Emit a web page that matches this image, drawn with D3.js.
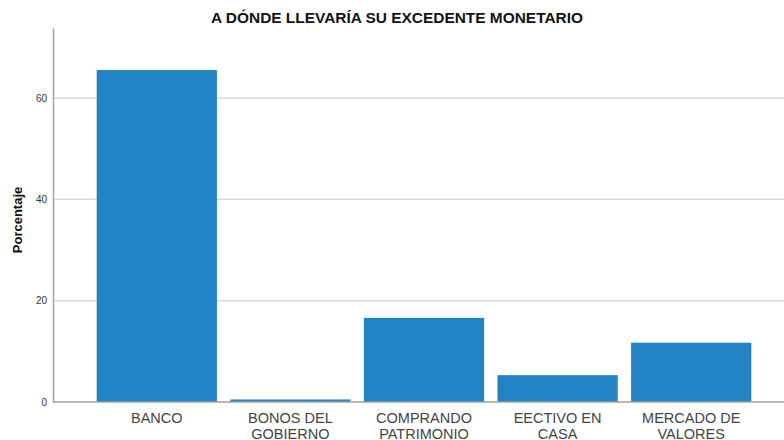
<!DOCTYPE html>
<html><head><meta charset="utf-8">
<script src="https://cdn.jsdelivr.net/npm/d3@7"></script>
<style>body{margin:0;background:#fff}svg{display:block}</style>
</head><body>
<script>
const categories = [["BANCO"],["BONOS DEL","GOBIERNO"],["COMPRANDO","PATRIMONIO"],["EECTIVO EN","CASA"],["MERCADO DE","VALORES"]];
const values = [65.5, 0.5, 16.6, 5.3, 11.7];
const yTicks = [0, 20, 40, 60];
const title = "A DÓNDE LLEVARÍA SU EXCEDENTE MONETARIO";
const yLabel = "Porcentaje";

const W = 784, H = 440;
const svg = d3.select("body").append("svg").attr("width", W).attr("height", H);
const keys = categories.map((c, i) => i);
const x = d3.scaleBand().domain(keys).range([90, 758]).paddingInner(0.1).paddingOuter(0.05);
const y = d3.scaleLinear().domain([0, 73.8]).range([402, 28]);
const x0 = 53;

// gridlines
svg.append("g").selectAll("line").data(yTicks.filter(d => d > 0)).join("line")
  .attr("x1", x0).attr("x2", W).attr("y1", d => y(d)).attr("y2", d => y(d))
  .attr("stroke", "#d9d9d9").attr("stroke-width", 1.5);

// bars
svg.append("g").selectAll("rect").data(values).join("rect")
  .attr("x", (d, i) => x(i)).attr("width", x.bandwidth())
  .attr("y", d => y(d)).attr("height", d => y(0) - y(d))
  .attr("fill", "#2183c4");

// y axis
const ya = svg.append("g").attr("transform", `translate(${x0},0)`)
  .call(d3.axisLeft(y).tickValues(yTicks).tickSize(0).tickPadding(6));
ya.select(".domain").attr("stroke", "#a0a0a0").attr("stroke-width", 1.5);
ya.selectAll("text").attr("font-family", "Liberation Sans, Arial, sans-serif").attr("font-size", 10).attr("fill", "#333");

// baseline
svg.append("line").attr("x1", x0).attr("x2", W).attr("y1", y(0)).attr("y2", y(0))
  .attr("stroke", "#a0a0a0").attr("stroke-width", 1.5);

// x labels
const xl = svg.append("g");
categories.forEach((lines, i) => {
  lines.forEach((l, j) => xl.append("text")
    .attr("x", x(i) + x.bandwidth() / 2).attr("y", 423 + j * 15.5)
    .attr("text-anchor", "middle").attr("font-family", "Liberation Sans, Arial, sans-serif")
    .attr("font-size", 14.5).attr("fill", "#444").text(l));
});

// title
svg.append("text").attr("x", 397).attr("y", 23).attr("text-anchor", "middle")
  .attr("font-family", "Liberation Sans, Arial, sans-serif").attr("font-weight", "bold")
  .attr("font-size", 14).attr("fill", "#111").attr("textLength", 372).attr("lengthAdjust", "spacingAndGlyphs").text(title);

// y label
svg.append("text").attr("transform", "translate(22,220) rotate(-90)").attr("text-anchor", "middle")
  .attr("font-family", "Liberation Sans, Arial, sans-serif").attr("font-weight", "bold")
  .attr("font-size", 13).attr("fill", "#111").text(yLabel);
</script>
</body></html>
